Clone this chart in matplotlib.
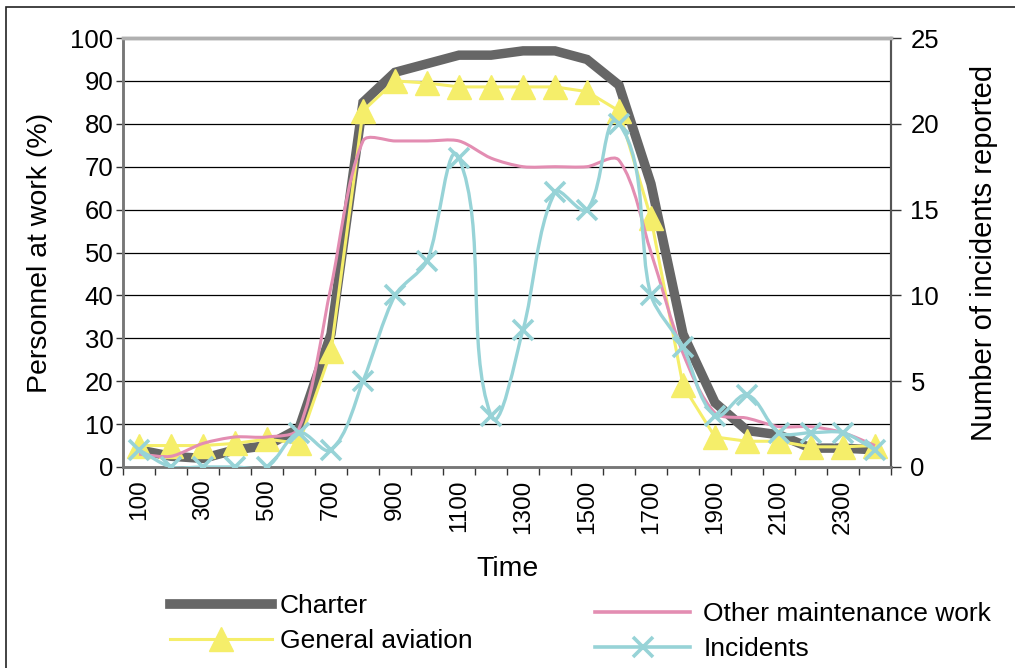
import numpy as np
import matplotlib
matplotlib.use("Agg")
from matplotlib import pyplot as plt
from matplotlib.path import Path
from matplotlib.patches import PathPatch, Rectangle
from matplotlib.lines import Line2D

plt.rcParams['font.family'] = ['Liberation Sans', 'DejaVu Sans']

times = ["100", "200", "300", "400", "500", "600", "700", "800", "900", "1000", "1100", "1200",
         "1300", "1400", "1500", "1600", "1700", "1800", "1900", "2000", "2100", "2200", "2300", "2400"]
charter = [4, 2.5, 2, 4, 5, 9, 31, 85, 92, 94, 96, 96, 97, 97, 95, 89, 66, 31, 15, 8.5, 7.5, 4.4, 4.4, 4]
general_aviation = [5, 5, 5, 5.5, 6.5, 5.5, 27, 83, 90, 89.5, 88.6, 88.6, 88.6, 88.6, 87.5, 83, 58, 19,
                    7, 6, 6, 4.7, 4.7, 5]
other_maint = [3, 2.5, 5.5, 7, 7, 9, 42, 76, 76, 76, 76, 72, 70, 70, 70, 71.5, 50, 26.5, 12.6, 11.4,
               9.4, 9.4, 8, 5]
incidents = [1, 0, 0, 0, 0, 2, 1, 5, 10, 12, 18, 3, 8, 16, 15, 20, 10, 7, 3, 4.2, 2, 2, 2, 1]


def smooth_path(x, y, sx, sy, t=0.28):
    # bezier "smoothed line"; tangents scaled by segment length (sx, sy = px per unit)
    px = np.asarray(x, float) * sx
    py = np.asarray(y, float) * sy
    n = len(px)
    P = np.column_stack([px, py])
    tang = []
    for i in range(n):
        d = P[min(i + 1, n - 1)] - P[max(i - 1, 0)]
        tang.append(d / np.hypot(*d))
    verts = [P[0]]
    codes = [Path.MOVETO]
    for i in range(n - 1):
        L = np.hypot(*(P[i + 1] - P[i]))
        verts += [P[i] + tang[i] * L * t, P[i + 1] - tang[i + 1] * L * t, P[i + 1]]
        codes += [Path.CURVE4] * 3
    verts = np.array(verts) / [sx, sy]
    return Path(verts, codes)


pos = np.arange(len(times))

fig = plt.figure(figsize=(10.15, 6.68), dpi=100)
ax = fig.add_axes([123/1015, 1 - 467/668, (891 - 123)/1015, (467 - 38)/668])
ax2 = ax.twinx()

# outer frame
fig.patches.append(Rectangle((6/1015, -0.1), 1.2, 1.1 - 7/668, transform=fig.transFigure,
                             fill=False, edgecolor="#222222", linewidth=1.2))

for v in range(10, 100, 10):
    ax.axhline(v, color="black", linewidth=0.9, zorder=0)

grey = "#666666"
yellow = "#f5ee6a"
pink = "#e38db2"
cyan = "#97d3d7"

ax.plot(pos, charter, color=grey, linewidth=6.8, solid_joinstyle="miter", zorder=2)
ax.plot(pos, general_aviation, color=yellow, linewidth=2.2, marker="^", markersize=17,
        markerfacecolor=yellow, markeredgecolor=yellow, zorder=3)
ax.add_patch(PathPatch(smooth_path(pos, other_maint, 32, 4.29), fill=False, edgecolor=pink,
                       linewidth=2.2, zorder=4))

ax2.add_patch(PathPatch(smooth_path(pos, incidents, 32, 17.16), fill=False, edgecolor=cyan,
                        linewidth=2.4, zorder=5))
ax2.plot(pos, incidents, linestyle="none", marker="x", markersize=15, markeredgewidth=2.6,
         color=cyan, zorder=6)

ax.set_xlim(-0.5, len(times) - 0.5)
ax.set_ylim(0, 100)
ax2.set_ylim(0, 25)
ax.set_yticks(range(0, 101, 10))
ax2.set_yticks(range(0, 26, 5))

ax.set_xticks(pos[::2])
ax.set_xticklabels(times[::2], rotation=90)
ax.set_xticks(np.arange(-0.5, len(times)), minor=True)
ax.tick_params(axis="x", which="major", length=0, labelsize=17.5, pad=9)
ax.tick_params(axis="x", which="minor", length=6, width=1, color="#333333")
ax.tick_params(axis="y", length=5, width=1, color="#333333", labelsize=18.5, pad=2)
ax2.tick_params(axis="y", length=7, width=1, color="#333333", labelsize=18.5, pad=7)

for a in (ax, ax2):
    a.spines["top"].set_color("#b0b0b0")
    a.spines["top"].set_linewidth(2.5)
    a.spines["left"].set_color("#777777")
    a.spines["left"].set_linewidth(1.8)
    a.spines["bottom"].set_color("#777777")
    a.spines["bottom"].set_linewidth(1.8)
    a.spines["right"].set_color("#555555")
    a.spines["right"].set_linewidth(1.5)

ax.set_ylabel("Personnel at work (%)", fontsize=20.5, labelpad=12)
ax2.set_ylabel("Number of incidents reported", fontsize=21, labelpad=22)
ax.set_xlabel("Time", fontsize=20.5, labelpad=16)

h_charter = Line2D([], [], color=grey, linewidth=7)
h_ga = Line2D([], [], color=yellow, linewidth=2.2, marker="^", markersize=17)
h_om = Line2D([], [], color=pink, linewidth=2.6)
h_inc = Line2D([], [], color=cyan, linewidth=2.6, marker="x", markersize=15, markeredgewidth=2.6)

leg1 = fig.legend([h_charter, h_ga], ["Charter", "General aviation"], loc="upper left",
                  bbox_to_anchor=(170/1015, 1 - 594/668), frameon=False, fontsize=19,
                  handlelength=3.86, handletextpad=0.3, labelspacing=0.42,
                  borderpad=0, borderaxespad=0)
leg2 = fig.legend([h_om, h_inc], ["Other maintenance work", "Incidents"], loc="upper left",
                  bbox_to_anchor=(595/1015, 1 - 602/668), frameon=False, fontsize=19,
                  handlelength=3.6, handletextpad=0.5, labelspacing=0.42,
                  borderpad=0, borderaxespad=0)

fig.savefig("out.png", dpi=100)
